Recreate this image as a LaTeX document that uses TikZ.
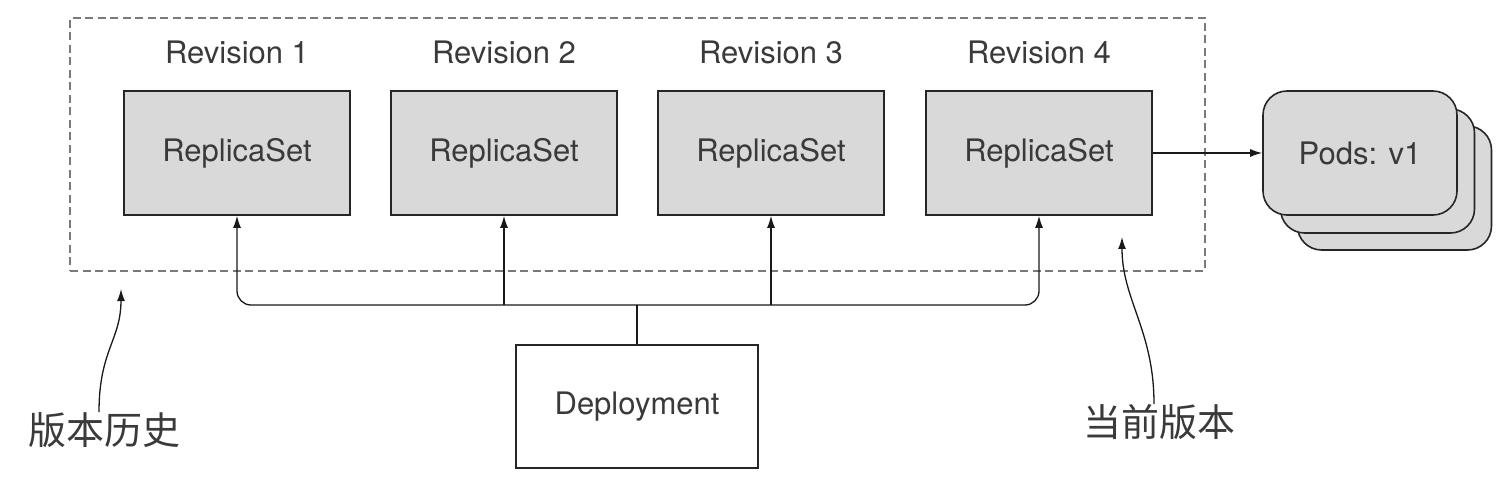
\documentclass[tikz,border=0pt]{standalone}
\usepackage{fontspec}
\setmainfont{TeX Gyre Heros}
\newfontfamily\cjk{Noto Sans CJK SC}
\usetikzlibrary{arrows.meta}
\definecolor{boxfill}{HTML}{D9D9D9}
\definecolor{txt}{HTML}{3A3A3A}
\definecolor{dashc}{HTML}{7A7A7A}
\begin{document}
\begin{tikzpicture}[x=1pt,y=-1pt,
  rsbox/.style={draw=black!85,line width=1.6pt,fill=boxfill,minimum width=226pt,minimum height=124pt,inner sep=0pt,text=txt,font=\fontsize{31}{31}\selectfont},
  revlabel/.style={text=txt,font=\fontsize{31}{31}\selectfont,inner sep=0pt},
  podbox/.style={draw=black!85,line width=1.6pt,fill=boxfill,rounded corners=24pt,minimum width=194pt,minimum height=124pt,inner sep=0pt,text=txt,font=\fontsize{31}{31}\selectfont},
  arr/.style={line width=1.3pt,draw=black!90,-{Latex[length=12pt,width=8pt]}},
  plainline/.style={line width=1.3pt,draw=black!90},
  cjklabel/.style={text=txt,font=\cjk\fontsize{38}{38}\selectfont,inner sep=0pt}]
\useasboundingbox (0,0) rectangle (1504,478);
% dashed frame
\node[draw=dashc,dash pattern=on 8pt off 4.5pt,line width=2.6pt,minimum width=1135pt,minimum height=253pt,inner sep=0pt] (frame) at (637.5,144.5) {};
% replica sets
\node[rsbox] (rs1) at (237,153) {ReplicaSet};
\node[rsbox] (rs2) at (504,153) {ReplicaSet};
\node[rsbox] (rs3) at (771,153) {ReplicaSet};
\node[rsbox] (rs4) at (1039,153) {ReplicaSet};
\node[revlabel] (r1) at (237,52) {Revision 1};
\node[revlabel] (r2) at (504,52) {Revision 2};
\node[revlabel] (r3) at (771,52) {Revision 3};
\node[revlabel] (r4) at (1039,52) {Revision 4};
% pods
\node[podbox] (p3) at (1394.5,188) {};
\node[podbox] (p2) at (1377.5,171) {};
\node[podbox] (p1) at (1360,153) {Pods: v1};
% deployment
\node[draw=black!85,line width=1.6pt,fill=white,minimum width=242pt,minimum height=123pt,inner sep=0pt,text=txt,font=\fontsize{31}{31}\selectfont] (dep) at (637,406.5) {Deployment};
% connectors
\coordinate (j) at (637,305);
\draw[plainline] (dep.north) -- (j);
\draw[arr,rounded corners=14pt] (j) -| (rs1.south);
\draw[arr,rounded corners=14pt] (j) -| (rs4.south);
\draw[arr] (rs2.south |- j) -- (rs2.south);
\draw[arr] (rs3.south |- j) -- (rs3.south);
\draw[arr] (rs4.east) -- (p1.west);
% annotations
\node[cjklabel] (hist) at (104,430) {版本历史};
\node[cjklabel] (cur) at (1159,422) {当前版本};
\coordinate (histtip) at (121,289);
\coordinate (curtip) at (1122,237);
\draw[arr] (hist.north -| 99,0) .. controls (99,350) and (121,340) .. (histtip);
\draw[arr] (cur.north -| 1154,0) .. controls (1154,330) and (1122,300) .. (curtip);
\end{tikzpicture}
\end{document}
